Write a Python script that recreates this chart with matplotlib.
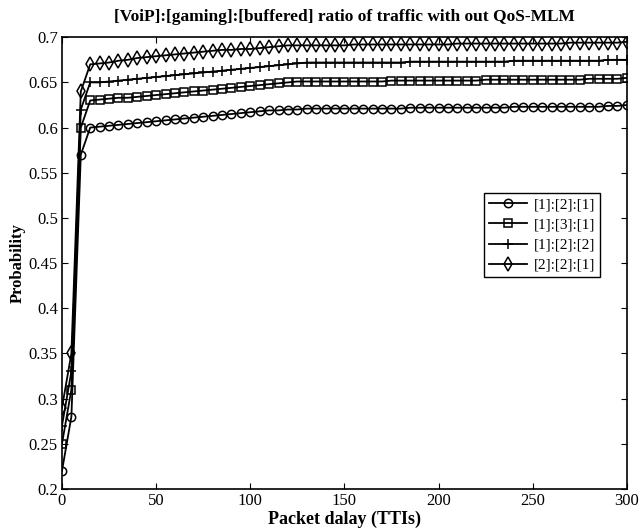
import matplotlib
matplotlib.use('Agg')
import matplotlib.pyplot as plt

plt.rcParams['font.family'] = ['Liberation Serif', 'DejaVu Serif']

delay = list(range(0, 301, 5))

# [1]:[2]:[1]
p121 = [0.220, 0.280, 0.570, 0.600, 0.601, 0.602, 0.603, 0.604, 0.605, 0.606,
        0.607, 0.608, 0.609, 0.610, 0.611, 0.612, 0.613, 0.614, 0.615, 0.616,
        0.617, 0.618, 0.619, 0.619, 0.620, 0.620, 0.621, 0.621, 0.621, 0.621,
        0.621, 0.621, 0.621, 0.621, 0.621, 0.621, 0.621, 0.622, 0.622, 0.622,
        0.622, 0.622, 0.622, 0.622, 0.622, 0.622, 0.622, 0.622, 0.623, 0.623,
        0.623, 0.623, 0.623, 0.623, 0.623, 0.623, 0.623, 0.623, 0.624, 0.624,
        0.625]
# [1]:[3]:[1]
p131 = [0.250, 0.310, 0.600, 0.630, 0.631, 0.632, 0.633, 0.633, 0.634, 0.635,
        0.636, 0.637, 0.638, 0.639, 0.640, 0.641, 0.642, 0.643, 0.644, 0.645,
        0.646, 0.647, 0.648, 0.649, 0.650, 0.651, 0.651, 0.651, 0.651, 0.651,
        0.651, 0.651, 0.651, 0.651, 0.651, 0.652, 0.652, 0.652, 0.652, 0.652,
        0.652, 0.652, 0.652, 0.652, 0.652, 0.653, 0.653, 0.653, 0.653, 0.653,
        0.653, 0.653, 0.653, 0.653, 0.653, 0.653, 0.654, 0.654, 0.654, 0.654,
        0.655]
# [1]:[2]:[2]
p122 = [0.270, 0.330, 0.620, 0.650, 0.650, 0.651, 0.652, 0.653, 0.654, 0.655,
        0.656, 0.657, 0.658, 0.659, 0.660, 0.661, 0.662, 0.663, 0.664, 0.665,
        0.666, 0.667, 0.668, 0.669, 0.670, 0.671, 0.672, 0.672, 0.672, 0.672,
        0.672, 0.672, 0.672, 0.672, 0.672, 0.672, 0.672, 0.673, 0.673, 0.673,
        0.673, 0.673, 0.673, 0.673, 0.673, 0.673, 0.673, 0.673, 0.674, 0.674,
        0.674, 0.674, 0.674, 0.674, 0.674, 0.674, 0.674, 0.674, 0.675, 0.675,
        0.675]
# [2]:[2]:[1]
p221 = [0.290, 0.350, 0.640, 0.670, 0.671, 0.672, 0.674, 0.675, 0.677, 0.678,
        0.679, 0.680, 0.681, 0.682, 0.683, 0.684, 0.685, 0.686, 0.686, 0.687,
        0.687, 0.688, 0.689, 0.690, 0.691, 0.691, 0.691, 0.691, 0.691, 0.691,
        0.691, 0.692, 0.692, 0.692, 0.692, 0.692, 0.692, 0.692, 0.692, 0.692,
        0.692, 0.692, 0.693, 0.693, 0.693, 0.693, 0.693, 0.693, 0.693, 0.693,
        0.693, 0.693, 0.693, 0.693, 0.694, 0.694, 0.694, 0.694, 0.694, 0.694,
        0.695]

series = [(p121, 'o', 6, '[1]:[2]:[1]'),
          (p131, 's', 6, '[1]:[3]:[1]'),
          (p122, '+', 7, '[1]:[2]:[2]'),
          (p221, 'd', 7.5, '[2]:[2]:[1]')]

fig = plt.figure(figsize=(6.39, 5.32), dpi=100)
ax = fig.add_axes([0.097, 0.081, 0.884, 0.849])

for vals, m, ms, lab in series:
    ax.plot(delay, vals, '-', marker=m, color='black', markersize=ms,
            markerfacecolor='none', markeredgewidth=1.1, linewidth=1.3, label=lab)

ax.set_xlim(0, 300)
ax.set_ylim(0.2, 0.7)
ax.set_xticks(range(0, 301, 50))
ax.set_yticks([0.2, 0.25, 0.3, 0.35, 0.4, 0.45, 0.5, 0.55, 0.6, 0.65, 0.7])
ax.set_yticklabels(['0.2', '0.25', '0.3', '0.35', '0.4', '0.45', '0.5', '0.55', '0.6', '0.65', '0.7'])
ax.tick_params(direction='in', top=True, right=True, labelsize=12, length=4)
ax.tick_params(axis='x', pad=3)
ax.tick_params(axis='y', pad=3)
for s in ax.spines.values():
    s.set_linewidth(1.2)

ax.set_title('[VoiP]:[gaming]:[buffered] ratio of traffic with out QoS-MLM',
             fontsize=12.5, fontweight='bold', pad=12)
ax.set_xlabel('Packet dalay (TTIs)', fontsize=13, fontweight='bold', labelpad=1)
ax.set_ylabel('Probability', fontsize=12, fontweight='bold', labelpad=2)

leg = ax.legend(loc='upper left', bbox_to_anchor=(0.747, 0.656), fontsize=11,
                frameon=True, fancybox=False, edgecolor='black', framealpha=1,
                handlelength=2.5, borderaxespad=0, labelspacing=0.42,
                borderpad=0.35, handletextpad=0.4)
leg.get_frame().set_linewidth(1.0)

plt.savefig('out.png', dpi=100)
